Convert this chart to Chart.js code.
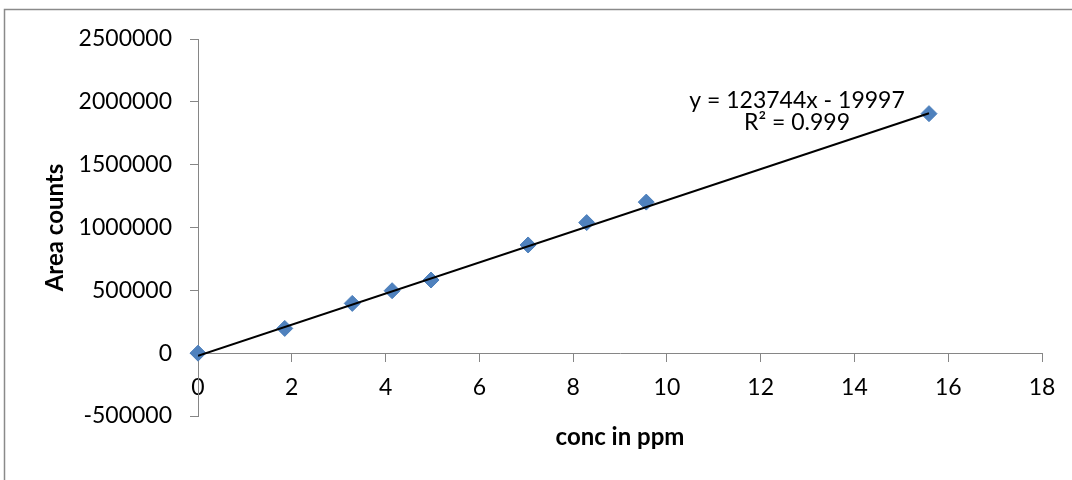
<!DOCTYPE html>
<html lang="en">
<head>
    <meta charset="UTF-8">
    <meta name="viewport" content="width=device-width, initial-scale=1.0">
    <title>Calibration Curve</title>
    <style>
        body {
            margin: 0;
            background-color: white;
        }
        canvas {
            display: block;
        }
    </style>
</head>
<body>
    <canvas id="calChart" width="1072" height="480"></canvas>

    <script src="https://cdn.jsdelivr.net/npm/chart.js"></script>
    <script>
        // Standards: concentration in ppm vs measured area counts
        const concPpm = [0, 1.85, 3.29, 4.14, 4.97, 7.04, 8.29, 9.56, 15.59];
        const areaCounts = [0, 197000, 396000, 497000, 582000, 861000, 1039000, 1202000, 1906000];

        // Linear trendline as printed on the chart: y = 123744x - 19997
        const trendX = [0, 15.59];
        const trendY = [-19997, 1909172];
        const equationLines = ['y = 123744x - 19997', 'R² = 0.999'];

        // Axis ticks
        const xTicks = [0, 2, 4, 6, 8, 10, 12, 14, 16, 18];
        const yTicks = [-500000, 0, 500000, 1000000, 1500000, 2000000, 2500000];

        const FONT = 'Lato, "Open Sans", sans-serif';
        const AXIS_GREY = '#868686';

        // Outer frame (only top and left edges are inside the picture)
        const framePlugin = {
            id: 'frame',
            beforeDraw(chart) {
                const ctx = chart.ctx;
                ctx.save();
                ctx.strokeStyle = '#8a8a8a';
                ctx.lineWidth = 1.5;
                ctx.beginPath();
                ctx.moveTo(1072, 9.5);
                ctx.lineTo(4.5, 9.5);
                ctx.lineTo(4.5, 480);
                ctx.stroke();
                ctx.restore();
            }
        };

        // Trendline equation label
        const equationPlugin = {
            id: 'equation',
            afterDraw(chart) {
                const ctx = chart.ctx;
                ctx.save();
                ctx.fillStyle = '#000';
                ctx.font = '23px ' + FONT;
                ctx.textAlign = 'center';
                ctx.textBaseline = 'alphabetic';
                ctx.fillText(equationLines[0], 797, 108);
                ctx.fillText(equationLines[1], 797, 130);
                ctx.restore();
            }
        };

        const ctx = document.getElementById('calChart').getContext('2d');
        new Chart(ctx, {
            type: 'scatter',
            data: {
                datasets: [
                    {
                        label: 'Linear trend',
                        data: trendX.map((x, i) => ({ x: x, y: trendY[i] })),
                        showLine: true,
                        borderColor: '#000',
                        borderWidth: 2,
                        pointRadius: 0,
                        order: 0
                    },
                    {
                        label: 'Area counts',
                        data: concPpm.map((x, i) => ({ x: x, y: areaCounts[i] })),
                        pointStyle: 'rectRot',
                        pointRadius: 8,
                        backgroundColor: '#4F81BD',
                        borderColor: '#4A7EBB',
                        borderWidth: 1,
                        clip: false,
                        order: 1
                    }
                ]
            },
            options: {
                responsive: false,
                animation: false,
                layout: {
                    padding: { top: 39, right: 30, bottom: 64, left: 0 }
                },
                plugins: {
                    legend: { display: false },
                    tooltip: { enabled: false }
                },
                scales: {
                    x: {
                        type: 'linear',
                        position: { y: 0 },
                        min: 0,
                        max: 18,
                        afterBuildTicks: scale => {
                            scale.ticks = xTicks.map(v => ({ value: v }));
                        },
                        afterFit: scale => {
                            scale.height = 64;
                        },
                        ticks: {
                            color: '#000',
                            padding: 13,
                            font: { family: FONT, size: 23 },
                            callback: v => String(v)
                        },
                        grid: {
                            drawOnChartArea: false,
                            drawTicks: true,
                            tickLength: 8,
                            color: AXIS_GREY
                        },
                        border: { display: true, color: AXIS_GREY, width: 1 },
                        title: {
                            display: true,
                            text: 'conc in ppm',
                            color: '#000',
                            font: { family: FONT, size: 24, weight: 'bold' },
                            padding: { top: 0, bottom: -34 }
                        }
                    },
                    y: {
                        type: 'linear',
                        position: 'left',
                        min: -500000,
                        max: 2500000,
                        afterBuildTicks: scale => {
                            scale.ticks = yTicks.map(v => ({ value: v }));
                        },
                        afterFit: scale => {
                            scale.width = 198;
                        },
                        ticks: {
                            color: '#000',
                            padding: 18,
                            font: { family: FONT, size: 23 },
                            callback: v => String(v)
                        },
                        grid: {
                            drawOnChartArea: false,
                            drawTicks: true,
                            tickLength: 8,
                            color: AXIS_GREY
                        },
                        border: { display: true, color: AXIS_GREY, width: 1 },
                        title: {
                            display: true,
                            text: 'Area counts',
                            color: '#000',
                            font: { family: FONT, size: 24, weight: 'bold' },
                            padding: { top: 41, bottom: 0 }
                        }
                    }
                }
            },
            plugins: [framePlugin, equationPlugin]
        });
    </script>
</body>
</html>
